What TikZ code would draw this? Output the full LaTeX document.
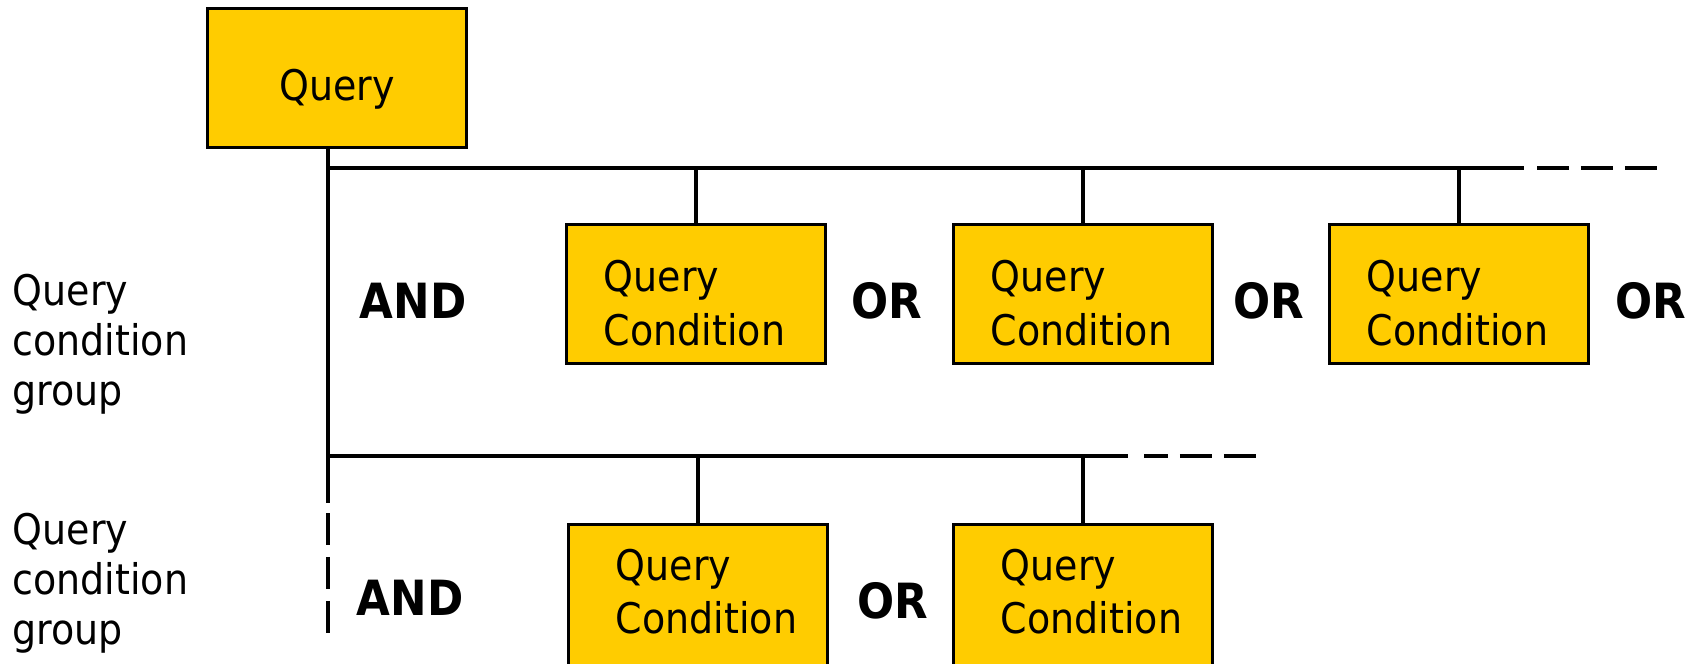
\documentclass[tikz,border=0pt]{standalone}
\usepackage{fontspec}
\setmainfont{DejaVu Sans Condensed}
\usepackage{tikz}
\definecolor{qgold}{HTML}{FFCC00}
\definecolor{qink}{HTML}{000000}

\begin{document}
\begin{tikzpicture}[x=0.01cm, y=-0.01cm,
  wire/.style={draw=qink, line width=1pt},
  gaps/.style={wire, dash pattern=on 9.1pt off 3.4pt},
  qbox/.style={draw=qink, line width=1pt, fill=qgold, minimum width=2.59cm, minimum height=1.39cm, inner sep=0pt, font=\fontsize{12}{15.2}\selectfont},
  rootbox/.style={qbox, text height=15.3pt},
  condbox/.style={qbox, align=left, text width=1.84cm, text height=14pt},
  condboxlow/.style={condbox, text width=1.64cm, minimum height=1.5cm, anchor=north, text height=9pt, text depth=19.8pt},
  op/.style={inner sep=0pt, font=\fontsize{13.8}{16}\selectfont\bfseries},
  grp/.style={inner sep=0pt, anchor=west, align=left, font=\fontsize{12}{14.2}\selectfont}]
  \useasboundingbox (0,0) rectangle (1704,663);

  % root
  \node[rootbox] (query) at (337,78) {Query};

  % group labels on the left
  \node[grp] (grp1) at (12,344) {Query\\condition\\group};
  \node[grp] (grp2) at (12,583) {Query\\condition\\group};

  % bus lines and the trunk
  \coordinate (bus1) at (328,168);
  \coordinate (bus1end) at (1524,168);
  \coordinate (bus1more) at (1537,168);
  \coordinate (bus1last) at (1657,168);
  \coordinate (bus2) at (328,456);
  \coordinate (bus2end) at (1128,456);
  \coordinate (bus2more) at (1144,456);
  \coordinate (bus2last) at (1257,456);
  \coordinate (trunkend) at (328,503);
  \coordinate (trunkmore) at (328,513);
  \coordinate (trunklast) at (328,633);

  \draw[wire] (query.south -| bus1) -- (trunkend);
  \draw[gaps] (trunkmore) -- (trunklast);
  \draw[wire] (bus1) -- (bus1end);
  \draw[gaps] (bus1more) -- (bus1last);
  \draw[wire] (bus2) -- (bus2end);
  \draw[gaps, dash phase=2.3pt] (bus2more) -- (bus2last);

  % first group
  \node[condbox] (cond11) at (696,294) {Query\\Condition};
  \node[condbox] (cond12) at (1083,294) {Query\\Condition};
  \node[condbox] (cond13) at (1459,294) {Query\\Condition};
  \node[op] (and1) at (413,301) {AND};
  \node[op] (or11) at (887,301) {OR};
  \node[op] (or12) at (1269,301) {OR};
  \node[op] (or13) at (1651,301) {OR};
  \draw[wire] (cond11.north) -- (cond11.north |- bus1);
  \draw[wire] (cond12.north) -- (cond12.north |- bus1);
  \draw[wire] (cond13.north) -- (cond13.north |- bus1);

  % second group
  \node[condboxlow] (cond21) at (698,522.5) {Query\\Condition};
  \node[condboxlow] (cond22) at (1083,522.5) {Query\\Condition};
  \node[op] (and2) at (410,598) {AND};
  \node[op] (or21) at (893,601) {OR};
  \draw[wire] (cond21.north) -- (cond21.north |- bus2);
  \draw[wire] (cond22.north) -- (cond22.north |- bus2);
\end{tikzpicture}
\end{document}
